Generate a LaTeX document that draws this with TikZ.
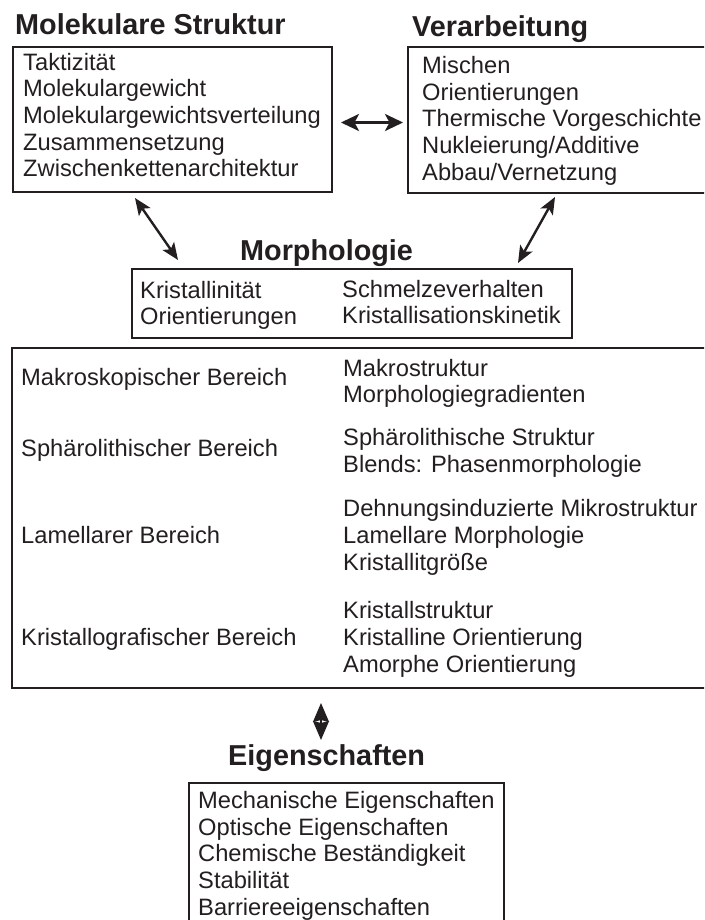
\documentclass[tikz,border=0pt]{standalone}
\usepackage{fontspec}
\setmainfont{Liberation Sans}
\usetikzlibrary{arrows.meta}
\definecolor{ink}{RGB}{35,31,32}
\begin{document}
\begin{tikzpicture}[x=1pt,y=-1pt,
  box/.style={draw=ink, line width=1.4pt, anchor=north west, inner sep=0pt, outer sep=0pt},
  txt/.style={anchor=base west, inner sep=0pt, text=ink, font=\fontsize{23.7}{26.7}\selectfont},
  ttl/.style={anchor=base west, inner sep=0pt, text=ink, font=\fontsize{28.8}{32}\selectfont\bfseries},
  dblh/.style={draw=ink, line width=2.8pt, {Stealth[length=18pt,width=17pt,inset=4.5pt]}-{Stealth[length=18pt,width=17pt,inset=4.5pt]}},
  dbld/.style={draw=ink, line width=2.4pt, {Stealth[length=17pt,width=14pt,inset=4pt]}-{Stealth[length=17pt,width=14pt,inset=4pt]}},
  dblv/.style={draw=ink, line width=1.8pt, {Stealth[length=19pt,width=16pt,inset=2pt]}-{Stealth[length=19pt,width=16pt,inset=2pt]}},
]
\useasboundingbox (0,0) rectangle (704,920);
\clip (0,0) rectangle (704,920);

% titles
\node[ttl] (tms) at (15,35) {Molekulare Struktur};
\node[ttl] (tvb) at (412,37) {Verarbeitung};
\node[ttl] (tmo) at (240,260) {Morphologie};
\node[ttl] (tei) at (228,765) {Eigenschaften};

% boxes
\node[box, minimum width=319, minimum height=145] (msbox) at (13,47) {};
\node[box, minimum width=330, minimum height=146] (vbbox) at (408,47) {};
\node[box, minimum width=440, minimum height=69] (mobox) at (132,269) {};
\node[box, minimum width=720, minimum height=340] (bigbox) at (12,348) {};
\node[box, minimum width=315, minimum height=160] (eibox) at (189,783) {};

% Molekulare Struktur
\foreach \t [count=\i from 0] in {Taktizität,Molekulargewicht,Molekulargewichtsverteilung,Zusammensetzung,Zwischenkettenarchitektur}
  \node[txt] (ms\i) at (23,70.3+26.67*\i) {\t};

% Verarbeitung
\foreach \t [count=\i from 0] in {Mischen,Orientierungen,Thermische Vorgeschichte,Nukleierung/Additive,Abbau/Vernetzung}
  \node[txt] (vb\i) at (422,73.5+26.67*\i) {\t};

% Morphologie
\node[txt] (mo1) at (140,298) {Kristallinität};
\node[txt] (mo2) at (140,324) {Orientierungen};
\node[txt] (mo3) at (342,297) {Schmelzeverhalten};
\node[txt] (mo4) at (342,323) {Kristallisationskinetik};

% big box, left column
\node[txt] (bl1) at (21,385) {Makroskopischer Bereich};
\node[txt] (bl2) at (21,456) {Sphärolithischer Bereich};
\node[txt] (bl3) at (21,543) {Lamellarer Bereich};
\node[txt] (bl4) at (21,645) {Kristallografischer Bereich};

% big box, right column
\node[txt] (br1) at (343,376) {Makrostruktur};
\node[txt] (br2) at (343,402) {Morphologiegradienten};
\node[txt] (br3) at (343,445) {Sphärolithische Struktur};
\node[txt] (br4) at (343,472) {Blends: Phasenmorphologie};
\node[txt] (br5) at (343,516) {Dehnungsinduzierte Mikrostruktur};
\node[txt] (br6) at (343,543) {Lamellare Morphologie};
\node[txt] (br7) at (343,570) {Kristallitgröße};
\node[txt] (br8) at (343,618) {Kristallstruktur};
\node[txt] (br9) at (343,645) {Kristalline Orientierung};
\node[txt] (br10) at (343,672) {Amorphe Orientierung};

% Eigenschaften
\foreach \t [count=\i from 0] in {Mechanische Eigenschaften,Optische Eigenschaften,Chemische Beständigkeit,Stabilität,Barriereeigenschaften}
  \node[txt] (ei\i) at (198,808.5+26.7*\i) {\t};

% connector ends
\coordinate (h1) at (341,122.5);
\coordinate (h2) at (403,122.5);
\coordinate (d1a) at (135,198);
\coordinate (d1b) at (178,260);
\coordinate (d2a) at (555,197);
\coordinate (d2b) at (518,263);
\coordinate (v1) at (321,703);
\coordinate (v2) at (321,740);

\draw[dblh] (h1) -- (h2);
\draw[dbld] (d1a) -- (d1b);
\draw[dbld] (d2a) -- (d2b);
\draw[dblv] (v1) -- (v2);
\end{tikzpicture}
\end{document}
